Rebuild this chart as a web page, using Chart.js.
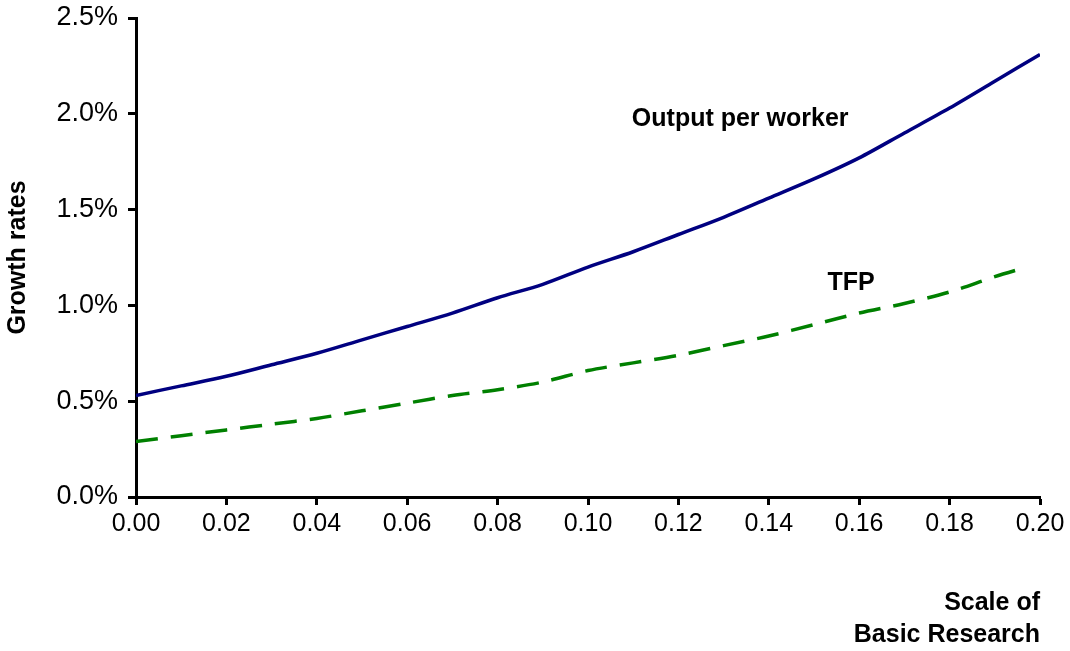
<!DOCTYPE html>
<html>
<head>
<meta charset="utf-8">
<title>Growth rates vs scale of basic research</title>
<script src="https://cdn.jsdelivr.net/npm/chart.js@4/dist/chart.umd.min.js"></script>
<style>
    html, body { margin: 0; padding: 0; background: #ffffff; }
    #growth-chart { display: block; }
</style>
</head>
<body>
<canvas id="growth-chart" width="1070" height="651"></canvas>
<script>
// scale of basic research (x)
const researchScale = [0.00, 0.01, 0.02, 0.03, 0.04, 0.05, 0.06, 0.07, 0.08, 0.09, 0.10,
    0.11, 0.12, 0.13, 0.14, 0.15, 0.16, 0.17, 0.18, 0.19, 0.20];
// growth rates, in percent
const outputPerWorker = [0.53, 0.58, 0.63, 0.69, 0.75, 0.82, 0.89, 0.96, 1.04, 1.11, 1.20,
    1.28, 1.37, 1.46, 1.56, 1.66, 1.77, 1.90, 2.03, 2.17, 2.31];
const tfpScale = [0.00, 0.01, 0.02, 0.03, 0.04, 0.05, 0.06, 0.07, 0.08, 0.09, 0.10,
    0.11, 0.12, 0.13, 0.14, 0.15, 0.16, 0.17, 0.18, 0.19, 0.197];
const tfp = [0.29, 0.32, 0.35, 0.38, 0.41, 0.45, 0.49, 0.53, 0.56, 0.60, 0.66,
    0.70, 0.74, 0.79, 0.84, 0.90, 0.96, 1.01, 1.07, 1.15, 1.20];

const seriesNames = ['Output per worker', 'TFP'];
const yAxisTitle = 'Growth rates';
const xAxisTitle = ['Scale of', 'Basic Research'];

const colors = {
    output: '#000080',
    tfp: '#008000',
    axis: '#000000',
    text: '#000000'
};

const toPoints = (xs, ys) => xs.map((x, i) => ({ x: x, y: ys[i] }));

// series names written next to the curves
const seriesLabels = {
    id: 'seriesLabels',
    afterDatasetsDraw(chart) {
        const { ctx, scales } = chart;
        ctx.save();
        ctx.fillStyle = colors.text;
        ctx.font = 'bold 25px "Liberation Sans", Arial, sans-serif';
        ctx.textBaseline = 'middle';
        ctx.textAlign = 'left';
        ctx.fillText(seriesNames[0], scales.x.getPixelForValue(0.1097), scales.y.getPixelForValue(1.973));
        ctx.textAlign = 'center';
        ctx.fillText(seriesNames[1], scales.x.getPixelForValue(0.1582), scales.y.getPixelForValue(1.117));
        ctx.restore();
    }
};

const family = '"Liberation Sans", Arial, sans-serif';

new Chart(document.getElementById('growth-chart').getContext('2d'), {
    type: 'line',
    data: {
        datasets: [{
            label: seriesNames[0],
            data: toPoints(researchScale, outputPerWorker),
            borderColor: colors.output,
            borderWidth: 3.5,
            pointRadius: 0,
            tension: 0.3,
            fill: false
        }, {
            label: seriesNames[1],
            data: toPoints(tfpScale, tfp),
            borderColor: colors.tfp,
            borderWidth: 3.5,
            borderDash: [22, 13],
            pointRadius: 0,
            tension: 0.3,
            fill: false
        }]
    },
    options: {
        responsive: false,
        animation: false,
        layout: {
            padding: { top: 18, right: 30, left: 0, bottom: 0 }
        },
        plugins: {
            legend: { display: false },
            tooltip: { enabled: false }
        },
        scales: {
            x: {
                type: 'linear',
                min: 0,
                max: 0.2,
                afterFit(scale) {
                    scale.height = 154;
                    scale.paddingLeft = 0;
                    scale.paddingRight = 0;
                },
                ticks: {
                    stepSize: 0.02,
                    color: colors.text,
                    font: { size: 25, family: family },
                    padding: 4,
                    maxRotation: 0,
                    callback: v => v.toFixed(2)
                },
                grid: {
                    drawOnChartArea: false,
                    drawTicks: true,
                    tickLength: 8,
                    tickWidth: 3,
                    tickColor: colors.axis
                },
                border: { color: colors.axis, width: 3 },
                title: {
                    display: true,
                    text: xAxisTitle,
                    align: 'end',
                    color: colors.text,
                    font: { size: 25, weight: 'bold', lineHeight: 1.28, family: family },
                    padding: { top: 0, bottom: 0 }
                }
            },
            y: {
                min: 0,
                max: 2.5,
                afterFit(scale) {
                    scale.width = 136;
                    scale.paddingTop = 0;
                    scale.paddingBottom = 0;
                },
                ticks: {
                    stepSize: 0.5,
                    color: colors.text,
                    font: { size: 27, family: family },
                    padding: 10,
                    callback: v => v.toFixed(1) + '%'
                },
                grid: {
                    drawOnChartArea: false,
                    drawTicks: true,
                    tickLength: 8,
                    tickWidth: 3,
                    tickColor: colors.axis
                },
                border: { color: colors.axis, width: 3 },
                title: {
                    display: true,
                    text: yAxisTitle,
                    color: colors.text,
                    font: { size: 25, weight: 'bold', family: family },
                    padding: { top: 3, bottom: 0 }
                }
            }
        }
    },
    plugins: [seriesLabels]
});
</script>
</body>
</html>
